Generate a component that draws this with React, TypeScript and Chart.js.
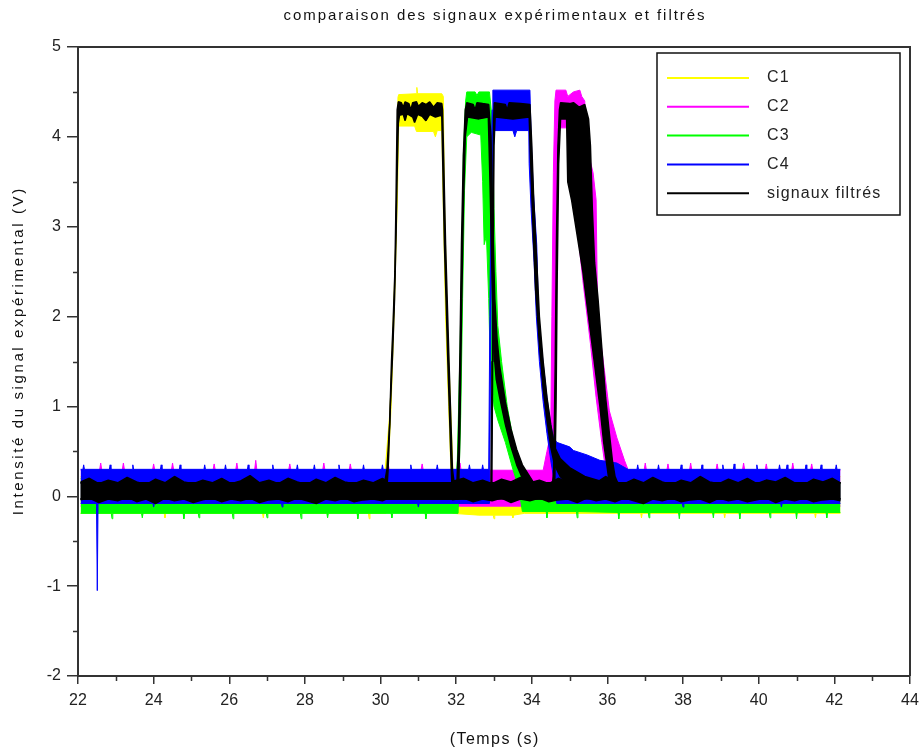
import { useEffect, useRef } from 'react';
import { Chart, registerables } from 'chart.js';

Chart.register(...registerables);

type P = [number, number];

const TITLE = 'comparaison des signaux expérimentaux et filtrés';
const X_TITLE = '(Temps (s)';
const Y_TITLE = 'Intensité du signal expérimental (V)';
const SERIES_NAMES = ['C1', 'C2', 'C3', 'C4', 'signaux filtrés'];
const SERIES_COLORS = ['#ffff00', '#ff00ff', '#00ff00', '#0000ff', '#000000'];

const X_MIN = 22;
const X_MAX = 44;
const X_STEP = 2;
const Y_MIN = -2;
const Y_MAX = 5;
const Y_STEP = 1;

// C1 (yellow) upper / lower envelope of the noisy signal
const C1_HI: P[] = [[22.07,0.22],[30.10,0.22],[30.13,0.33],[30.25,0.96],[30.36,2.26],[30.43,3.3],[30.46,4.44],[30.48,4.47],[30.94,4.48],[30.96,4.55],[30.98,4.48],[31.62,4.48],[31.66,4.45],[31.69,3.3],[31.77,1.9],[31.84,1.15],[31.91,0.33],[31.95,0.22],[42.16,0.22]];
const C1_LO: P[] = [[22.07,-0.19],[24.28,-0.19],[24.30,-0.24],[24.32,-0.19],[26.88,-0.19],[26.90,-0.24],[26.92,-0.19],[29.68,-0.19],[29.70,-0.25],[29.72,-0.19],[30.14,-0.19],[30.20,0.3],[30.28,1.0],[30.38,2.3],[30.45,3.4],[30.48,4.12],[30.90,4.12],[30.95,4.06],[31.40,4.06],[31.45,4.0],[31.50,4.07],[31.62,4.07],[31.65,3.4],[31.72,2.0],[31.80,1.0],[31.87,0.2],[31.91,-0.19],[32.60,-0.21],[32.98,-0.21],[33.00,-0.25],[33.02,-0.21],[33.48,-0.21],[33.50,-0.24],[33.52,-0.21],[33.80,-0.19],[36.88,-0.19],[36.90,-0.24],[36.92,-0.19],[39.08,-0.19],[39.10,-0.24],[39.12,-0.19],[41.48,-0.19],[41.50,-0.24],[41.52,-0.19],[42.16,-0.19]];

// C2 (magenta)
const C2_HI: P[] = [[22.07,0.29],[22.57,0.29],[22.60,0.37],[22.63,0.29],[23.17,0.29],[23.20,0.37],[23.23,0.29],[23.97,0.29],[24.00,0.36],[24.03,0.29],[24.47,0.29],[24.50,0.37],[24.53,0.29],[25.57,0.29],[25.60,0.36],[25.63,0.29],[26.17,0.29],[26.20,0.37],[26.23,0.29],[26.67,0.29],[26.70,0.40],[26.73,0.29],[27.57,0.29],[27.60,0.36],[27.63,0.29],[28.47,0.29],[28.50,0.37],[28.53,0.29],[29.17,0.29],[29.20,0.36],[29.23,0.29],[30.17,0.29],[30.20,0.37],[30.23,0.29],[31.07,0.29],[31.10,0.36],[31.13,0.29],[32.07,0.29],[32.10,0.37],[32.13,0.29],[34.30,0.29],[34.40,0.5],[34.50,0.7],[34.53,2.0],[34.57,3.6],[34.61,4.4],[34.64,4.52],[34.90,4.52],[34.95,4.45],[35.10,4.50],[35.27,4.52],[35.32,4.45],[35.40,4.40],[35.45,3.9],[35.62,3.6],[35.70,3.3],[35.74,2.0],[35.92,1.4],[36.05,0.95],[36.25,0.65],[36.45,0.4],[36.55,0.29],[36.97,0.29],[37.00,0.37],[37.03,0.29],[37.57,0.29],[37.60,0.36],[37.63,0.29],[38.17,0.29],[38.20,0.37],[38.23,0.29],[38.87,0.29],[38.90,0.36],[38.93,0.29],[39.57,0.29],[39.60,0.37],[39.63,0.29],[40.17,0.29],[40.20,0.36],[40.23,0.29],[40.87,0.29],[40.90,0.37],[40.93,0.29],[41.37,0.29],[41.40,0.36],[41.43,0.29],[42.16,0.29]];
const C2_LO: P[] = [[22.07,-0.11],[34.55,-0.11],[34.60,1.0],[34.64,3.0],[34.68,4.1],[35.15,4.1],[35.20,3.0],[35.35,2.4],[35.55,1.7],[35.70,1.1],[35.85,0.6],[35.95,0.3],[36.05,0.0],[36.10,-0.11],[42.16,-0.11]];

// C3 (green)
const C3_HI: P[] = [[22.07,0.20],[32.00,0.20],[32.03,0.4],[32.10,1.6],[32.15,2.7],[32.19,3.8],[32.25,4.4],[32.28,4.5],[32.50,4.5],[32.55,4.46],[32.60,4.5],[32.88,4.5],[32.95,4.2],[33.00,3.2],[33.05,2.5],[33.10,1.9],[33.20,1.5],[33.35,1.0],[33.50,0.65],[33.70,0.38],[33.85,0.2],[33.95,0.14],[42.16,0.14]];
const C3_LO: P[] = [[22.07,-0.19],[22.88,-0.19],[22.90,-0.25],[22.92,-0.19],[23.68,-0.19],[23.70,-0.24],[23.72,-0.19],[24.78,-0.19],[24.80,-0.25],[24.82,-0.19],[25.18,-0.19],[25.20,-0.24],[25.22,-0.19],[26.08,-0.19],[26.10,-0.25],[26.12,-0.19],[26.98,-0.19],[27.00,-0.24],[27.02,-0.19],[27.88,-0.19],[27.90,-0.25],[27.92,-0.19],[28.58,-0.19],[28.60,-0.24],[28.62,-0.19],[29.38,-0.19],[29.40,-0.25],[29.42,-0.19],[30.28,-0.19],[30.30,-0.24],[30.32,-0.19],[31.18,-0.19],[31.20,-0.25],[31.22,-0.19],[32.05,-0.19],[32.12,0.9],[32.17,2.2],[32.22,3.4],[32.28,4.0],[32.40,4.05],[32.65,4.02],[32.70,3.5],[32.74,2.8],[32.80,2.9],[32.86,2.2],[32.90,1.5],[33.00,1.0],[33.10,0.85],[33.30,0.6],[33.50,0.3],[33.65,0.1],[33.75,-0.17],[34.38,-0.17],[34.40,-0.24],[34.42,-0.17],[35.18,-0.17],[35.20,-0.24],[35.22,-0.17],[36.28,-0.18],[36.30,-0.25],[36.32,-0.18],[37.08,-0.18],[37.10,-0.24],[37.12,-0.18],[37.88,-0.18],[37.90,-0.25],[37.92,-0.18],[38.78,-0.18],[38.80,-0.24],[38.82,-0.18],[39.48,-0.18],[39.50,-0.25],[39.52,-0.18],[40.28,-0.18],[40.30,-0.24],[40.32,-0.18],[40.98,-0.18],[41.00,-0.25],[41.02,-0.18],[41.78,-0.18],[41.80,-0.24],[41.82,-0.18],[42.16,-0.18]];

// C4 (blue)
const C4_HI: P[] = [[22.07,0.30],[22.13,0.30],[22.15,0.35],[22.17,0.30],[22.83,0.30],[22.85,0.35],[22.87,0.30],[23.43,0.30],[23.45,0.35],[23.47,0.30],[24.18,0.30],[24.20,0.35],[24.22,0.30],[24.68,0.30],[24.70,0.35],[24.72,0.30],[25.33,0.30],[25.35,0.35],[25.37,0.30],[25.88,0.30],[25.90,0.35],[25.92,0.30],[26.48,0.30],[26.50,0.35],[26.52,0.30],[27.13,0.30],[27.15,0.35],[27.17,0.30],[27.78,0.30],[27.80,0.35],[27.82,0.30],[28.23,0.30],[28.25,0.35],[28.27,0.30],[28.88,0.30],[28.90,0.35],[28.92,0.30],[29.53,0.30],[29.55,0.35],[29.57,0.30],[30.03,0.30],[30.05,0.35],[30.07,0.30],[30.78,0.30],[30.80,0.35],[30.82,0.30],[31.48,0.30],[31.50,0.35],[31.52,0.30],[32.33,0.30],[32.35,0.35],[32.37,0.30],[32.68,0.30],[32.70,0.35],[32.72,0.30],[32.86,0.30],[32.89,2.0],[32.92,3.5],[32.95,4.3],[32.97,4.52],[33.95,4.52],[33.97,4.2],[34.00,3.8],[34.04,3.4],[34.13,2.8],[34.18,2.0],[34.27,1.6],[34.40,1.1],[34.50,0.8],[34.57,0.66],[34.66,0.60],[35.00,0.55],[35.10,0.51],[35.46,0.46],[35.80,0.40],[36.25,0.37],[36.50,0.31],[36.55,0.30],[36.78,0.30],[36.80,0.35],[36.82,0.30],[37.33,0.30],[37.35,0.35],[37.37,0.30],[37.93,0.30],[37.95,0.35],[37.97,0.30],[38.48,0.30],[38.50,0.35],[38.52,0.30],[39.03,0.30],[39.05,0.35],[39.07,0.30],[39.33,0.30],[39.35,0.36],[39.37,0.30],[39.93,0.30],[39.95,0.35],[39.97,0.30],[40.53,0.30],[40.55,0.35],[40.57,0.30],[40.73,0.30],[40.75,0.35],[40.77,0.30],[41.23,0.30],[41.25,0.35],[41.27,0.30],[41.63,0.30],[41.65,0.35],[41.67,0.30],[42.03,0.30],[42.05,0.35],[42.07,0.30],[42.16,0.30]];
const C4_LO: P[] = [[22.07,-0.08],[22.49,-0.08],[22.51,-1.05],[22.53,-0.08],[23.98,-0.08],[24.00,-0.12],[24.02,-0.08],[27.38,-0.08],[27.40,-0.12],[27.42,-0.08],[30.98,-0.08],[31.00,-0.12],[31.02,-0.08],[32.88,-0.08],[32.91,1.5],[32.94,3.2],[32.97,4.0],[33.00,4.07],[33.50,4.07],[33.55,4.0],[33.60,4.07],[33.92,4.07],[33.93,3.7],[33.98,3.2],[34.06,2.6],[34.12,2.0],[34.20,1.5],[34.30,1.05],[34.40,0.7],[34.50,0.4],[34.58,0.2],[34.66,-0.08],[37.98,-0.08],[38.00,-0.12],[38.02,-0.08],[40.58,-0.08],[40.60,-0.12],[40.62,-0.08],[42.16,-0.08]];

// Filtered signals (black), one per channel
const F1_HI: P[] = [[22.07,0.16],[22.30,0.20],[22.55,0.14],[22.80,0.18],[23.05,0.15],[23.30,0.21],[23.55,0.16],[23.80,0.13],[24.05,0.19],[24.30,0.15],[24.55,0.22],[24.80,0.16],[25.05,0.14],[25.30,0.18],[25.55,0.15],[25.80,0.20],[26.05,0.14],[26.30,0.17],[26.55,0.23],[26.80,0.15],[27.05,0.18],[27.30,0.14],[27.55,0.20],[27.80,0.16],[28.05,0.13],[28.30,0.19],[28.55,0.15],[28.80,0.21],[29.05,0.16],[29.30,0.14],[29.55,0.18],[29.80,0.15],[30.05,0.20],[30.12,0.18],[30.17,0.30],[30.24,0.80],[30.29,1.50],[30.33,1.90],[30.38,2.50],[30.41,3.30],[30.44,4.30],[30.47,4.39],[30.55,4.38],[30.60,4.33],[30.65,4.39],[30.75,4.37],[30.80,4.30],[30.85,4.38],[30.95,4.39],[31.00,4.34],[31.10,4.38],[31.20,4.36],[31.30,4.39],[31.40,4.33],[31.50,4.38],[31.62,4.37],[31.64,4.30],[31.72,2.80],[31.81,1.50],[31.90,0.30],[31.94,0.17],[32.20,0.20],[32.45,0.15],[32.70,0.18],[32.95,0.14],[33.20,0.19],[33.45,0.16],[33.70,0.21],[33.95,0.15],[34.20,0.18],[34.45,0.14],[34.70,0.20],[34.95,0.16],[35.20,0.13],[35.45,0.19],[35.70,0.15],[35.95,0.22],[36.20,0.16],[36.45,0.14],[36.70,0.19],[36.95,0.15],[37.20,0.21],[37.45,0.16],[37.70,0.13],[37.95,0.18],[38.20,0.15],[38.45,0.22],[38.70,0.16],[38.95,0.14],[39.20,0.19],[39.45,0.15],[39.70,0.20],[39.95,0.14],[40.20,0.18],[40.45,0.16],[40.70,0.21],[40.95,0.15],[41.20,0.13],[41.45,0.19],[41.70,0.16],[41.95,0.20],[42.16,0.15]];
const F1_LO: P[] = [[22.07,-0.04],[22.30,-0.02],[22.55,-0.07],[22.80,-0.03],[23.05,-0.05],[23.30,-0.01],[23.55,-0.06],[23.80,-0.03],[24.05,-0.08],[24.30,-0.02],[24.55,-0.05],[24.80,-0.03],[25.05,-0.07],[25.30,-0.04],[25.55,-0.02],[25.80,-0.06],[26.05,-0.03],[26.30,-0.05],[26.55,-0.02],[26.80,-0.07],[27.05,-0.04],[27.30,-0.03],[27.55,-0.06],[27.80,-0.02],[28.05,-0.05],[28.30,-0.08],[28.55,-0.03],[28.80,-0.05],[29.05,-0.02],[29.30,-0.06],[29.55,-0.04],[29.80,-0.03],[30.05,-0.05],[30.15,-0.03],[30.20,0.30],[30.26,1.00],[30.32,1.60],[30.37,2.20],[30.41,2.90],[30.44,3.60],[30.47,4.15],[30.50,4.24],[30.60,4.25],[30.65,4.18],[30.70,4.26],[30.85,4.22],[30.90,4.16],[30.98,4.25],[31.10,4.23],[31.20,4.18],[31.30,4.25],[31.45,4.22],[31.60,4.24],[31.62,4.22],[31.69,2.80],[31.78,1.50],[31.87,0.30],[31.90,-0.04],[32.20,-0.02],[32.45,-0.06],[32.70,-0.03],[32.95,-0.05],[33.20,-0.02],[33.45,-0.07],[33.70,-0.03],[33.95,-0.05],[34.20,-0.02],[34.45,-0.06],[34.70,-0.04],[34.95,-0.03],[35.20,-0.07],[35.45,-0.02],[35.70,-0.05],[35.95,-0.03],[36.20,-0.06],[36.45,-0.02],[36.70,-0.05],[36.95,-0.08],[37.20,-0.03],[37.45,-0.05],[37.70,-0.02],[37.95,-0.06],[38.20,-0.04],[38.45,-0.03],[38.70,-0.07],[38.95,-0.02],[39.20,-0.05],[39.45,-0.03],[39.70,-0.06],[39.95,-0.04],[40.20,-0.02],[40.45,-0.07],[40.70,-0.03],[40.95,-0.05],[41.20,-0.02],[41.45,-0.06],[41.70,-0.04],[41.95,-0.03],[42.16,-0.05]];
const F2_HI: P[] = [[22.07,0.15],[34.55,0.15],[34.58,0.30],[34.62,1.50],[34.65,2.80],[34.69,3.90],[34.73,4.30],[34.76,4.38],[35.00,4.37],[35.10,4.38],[35.25,4.33],[35.40,4.36],[35.50,4.20],[35.55,3.90],[35.60,3.20],[35.66,2.60],[35.75,2.20],[35.86,1.60],[35.95,1.10],[36.05,0.70],[36.13,0.40],[36.20,0.22],[36.27,0.15],[42.16,0.15]];
const F2_LO: P[] = [[22.07,-0.03],[34.60,-0.03],[34.64,1.00],[34.67,2.40],[34.71,3.70],[34.76,4.20],[34.92,4.20],[34.95,3.50],[35.05,3.30],[35.20,2.90],[35.35,2.50],[35.50,2.00],[35.65,1.50],[35.80,1.00],[35.90,0.60],[36.00,0.30],[36.08,0.05],[36.15,-0.03],[42.16,-0.03]];
const F3_HI: P[] = [[22.07,0.15],[32.02,0.15],[32.06,0.60],[32.10,1.60],[32.14,2.80],[32.19,3.80],[32.24,4.30],[32.28,4.38],[32.45,4.36],[32.50,4.30],[32.55,4.38],[32.70,4.37],[32.86,4.36],[32.92,4.00],[32.97,3.00],[33.02,2.20],[33.08,1.75],[33.15,1.45],[33.30,1.05],[33.45,0.75],[33.60,0.52],[33.75,0.35],[33.90,0.25],[34.05,0.15],[42.16,0.15]];
const F3_LO: P[] = [[22.07,-0.03],[32.06,-0.03],[32.10,0.80],[32.14,2.00],[32.19,3.20],[32.24,4.00],[32.30,4.22],[32.60,4.20],[32.85,4.22],[32.90,3.40],[32.95,2.40],[33.00,1.60],[33.06,1.30],[33.15,1.10],[33.30,0.80],[33.45,0.55],[33.60,0.35],[33.75,0.20],[33.90,0.05],[34.05,-0.03],[42.16,-0.03]];
const F4_HI: P[] = [[22.07,0.15],[32.92,0.15],[32.95,1.50],[32.97,3.00],[32.99,4.20],[33.01,4.38],[33.30,4.36],[33.35,4.30],[33.40,4.38],[33.70,4.37],[33.95,4.36],[34.00,3.90],[34.05,3.30],[34.12,2.70],[34.20,2.00],[34.30,1.50],[34.40,1.10],[34.50,0.80],[34.60,0.55],[34.75,0.42],[35.00,0.32],[35.40,0.22],[35.80,0.17],[36.00,0.15],[42.16,0.15]];
const F4_LO: P[] = [[22.07,-0.03],[32.94,-0.03],[32.96,1.20],[32.98,2.80],[33.00,3.90],[33.03,4.22],[33.50,4.20],[33.93,4.22],[33.98,3.60],[34.04,2.90],[34.10,2.30],[34.20,1.70],[34.30,1.20],[34.40,0.85],[34.50,0.55],[34.60,0.35],[34.75,0.22],[35.00,0.12],[35.40,0.02],[35.80,-0.03],[42.16,-0.03]];

const FONT = "'Liberation Sans', Arial, Helvetica, sans-serif";

const ENVELOPES = [
  { hi: C1_HI, lo: C1_LO, series: 0, width: 1 },
  { hi: C2_HI, lo: C2_LO, series: 1, width: 1 },
  { hi: C3_HI, lo: C3_LO, series: 2, width: 1 },
  { hi: C4_HI, lo: C4_LO, series: 3, width: 1 },
  { hi: F1_HI, lo: F1_LO, series: 4, width: 1.5 },
  { hi: F2_HI, lo: F2_LO, series: 4, width: 1.5 },
  { hi: F3_HI, lo: F3_LO, series: 4, width: 1.5 },
  { hi: F4_HI, lo: F4_LO, series: 4, width: 1.5 },
];

function toPoints(a: P[]) {
  return a.map(([x, y]) => ({ x, y }));
}

function spaced(ctx: CanvasRenderingContext2D, text: string, cx: number, cy: number, target: number) {
  (ctx as any).letterSpacing = '0px';
  const w0 = ctx.measureText(text).width;
  const ls = Math.max(0, (target - w0) / text.length);
  (ctx as any).letterSpacing = ls + 'px';
  ctx.textAlign = 'left';
  ctx.textBaseline = 'middle';
  ctx.fillText(text, cx - (w0 + ls * (text.length - 1)) / 2, cy);
  (ctx as any).letterSpacing = '0px';
}

const decorations = {
  id: 'decorations',
  afterDraw(chart: any) {
    const { ctx, chartArea: a, scales } = chart;
    const xs = scales.x;
    const ys = scales.y;
    ctx.save();
    // frame: top and right edges
    ctx.strokeStyle = '#333';
    ctx.lineWidth = 2;
    ctx.beginPath();
    ctx.moveTo(a.left, a.top);
    ctx.lineTo(a.right, a.top);
    ctx.lineTo(a.right, a.bottom);
    ctx.stroke();
    // minor ticks
    ctx.lineWidth = 1.5;
    ctx.beginPath();
    for (let v = X_MIN + X_STEP / 2; v < X_MAX; v += X_STEP) {
      const px = Math.round(xs.getPixelForValue(v)) + 0.5;
      ctx.moveTo(px, a.bottom);
      ctx.lineTo(px, a.bottom + 5);
    }
    for (let v = Y_MIN + Y_STEP / 2; v < Y_MAX; v += Y_STEP) {
      const py = Math.round(ys.getPixelForValue(v)) + 0.5;
      ctx.moveTo(a.left - 5, py);
      ctx.lineTo(a.left, py);
    }
    ctx.stroke();

    // titles
    ctx.fillStyle = '#111';
    ctx.font = `15px ${FONT}`;
    spaced(ctx, TITLE, (a.left + a.right) / 2, 16, 423);
    ctx.font = `16px ${FONT}`;
    spaced(ctx, X_TITLE, (a.left + a.right) / 2, 740, 90);
    ctx.save();
    ctx.translate(19, 352);
    ctx.rotate(-Math.PI / 2);
    ctx.font = `15px ${FONT}`;
    spaced(ctx, Y_TITLE, 0, 0, 329);
    ctx.restore();

    // legend
    const bx = 657, by = 53, bw = 243, bh = 162;
    ctx.fillStyle = '#fff';
    ctx.fillRect(bx, by, bw, bh);
    ctx.strokeStyle = '#111';
    ctx.lineWidth = 1.5;
    ctx.strokeRect(bx, by, bw, bh);
    ctx.font = `16px ${FONT}`;
    SERIES_NAMES.forEach((name, i) => {
      const y = 78 + i * 28.8;
      ctx.strokeStyle = SERIES_COLORS[i];
      ctx.lineWidth = 2;
      ctx.beginPath();
      ctx.moveTo(667, y);
      ctx.lineTo(749, y);
      ctx.stroke();
      ctx.fillStyle = '#222';
      (ctx as any).letterSpacing = '1.1px';
      ctx.textAlign = 'left';
      ctx.textBaseline = 'middle';
      ctx.fillText(name, 767, y);
      (ctx as any).letterSpacing = '0px';
    });
    ctx.restore();
  },
};

export default function App() {
  const ref = useRef<HTMLCanvasElement | null>(null);

  useEffect(() => {
    if (!ref.current) return;
    const datasets: any[] = [];
    ENVELOPES.forEach((e) => {
      const color = SERIES_COLORS[e.series];
      datasets.push({
        label: SERIES_NAMES[e.series],
        data: toPoints(e.hi),
        borderColor: color,
        backgroundColor: color,
        borderWidth: e.width,
        fill: '+1',
        pointRadius: 0,
        tension: 0,
      });
      datasets.push({
        label: SERIES_NAMES[e.series],
        data: toPoints(e.lo),
        borderColor: color,
        backgroundColor: color,
        borderWidth: e.width,
        fill: false,
        pointRadius: 0,
        tension: 0,
      });
    });
    datasets.forEach((d, i) => (d.order = 100 - i));

    const chart = new Chart(ref.current, {
      type: 'line',
      data: { datasets },
      options: {
        responsive: false,
        animation: false,
        events: [],
        parsing: false,
        layout: { padding: { top: 47, right: 13, bottom: 0, left: 0 } },
        elements: {
          point: { radius: 0 },
          line: { borderJoinStyle: 'bevel', borderCapStyle: 'butt' },
        },
        plugins: {
          legend: { display: false },
          title: { display: false },
          tooltip: { enabled: false },
        },
        scales: {
          x: {
            type: 'linear',
            min: X_MIN,
            max: X_MAX,
            ticks: {
              stepSize: X_STEP,
              color: '#222',
              font: { family: FONT, size: 16 },
              padding: 7,
              maxRotation: 0,
              autoSkip: false,
            },
            grid: { display: true, drawOnChartArea: false, drawTicks: true, tickLength: 8, color: '#333', lineWidth: 1.5 },
            border: { display: true, color: '#333', width: 2 },
            afterFit: (s: any) => {
              s.height = 77;
              s.paddingLeft = 0;
              s.paddingRight = 0;
            },
          },
          y: {
            type: 'linear',
            min: Y_MIN,
            max: Y_MAX,
            ticks: {
              stepSize: Y_STEP,
              color: '#222',
              font: { family: FONT, size: 16 },
              padding: 6,
              autoSkip: false,
            },
            grid: { display: true, drawOnChartArea: false, drawTicks: true, tickLength: 11, color: '#333', lineWidth: 1.5 },
            border: { display: true, color: '#333', width: 2 },
            afterFit: (s: any) => {
              s.width = 78;
              s.paddingTop = 0;
              s.paddingBottom = 0;
            },
          },
        },
      } as any,
      plugins: [decorations],
    });
    return () => chart.destroy();
  }, []);

  return (
    <div style={{ position: 'absolute', left: 0, top: 0, width: 923, height: 753, background: '#fff' }}>
      <canvas ref={ref} width={923} height={753} style={{ display: 'block' }} />
    </div>
  );
}
